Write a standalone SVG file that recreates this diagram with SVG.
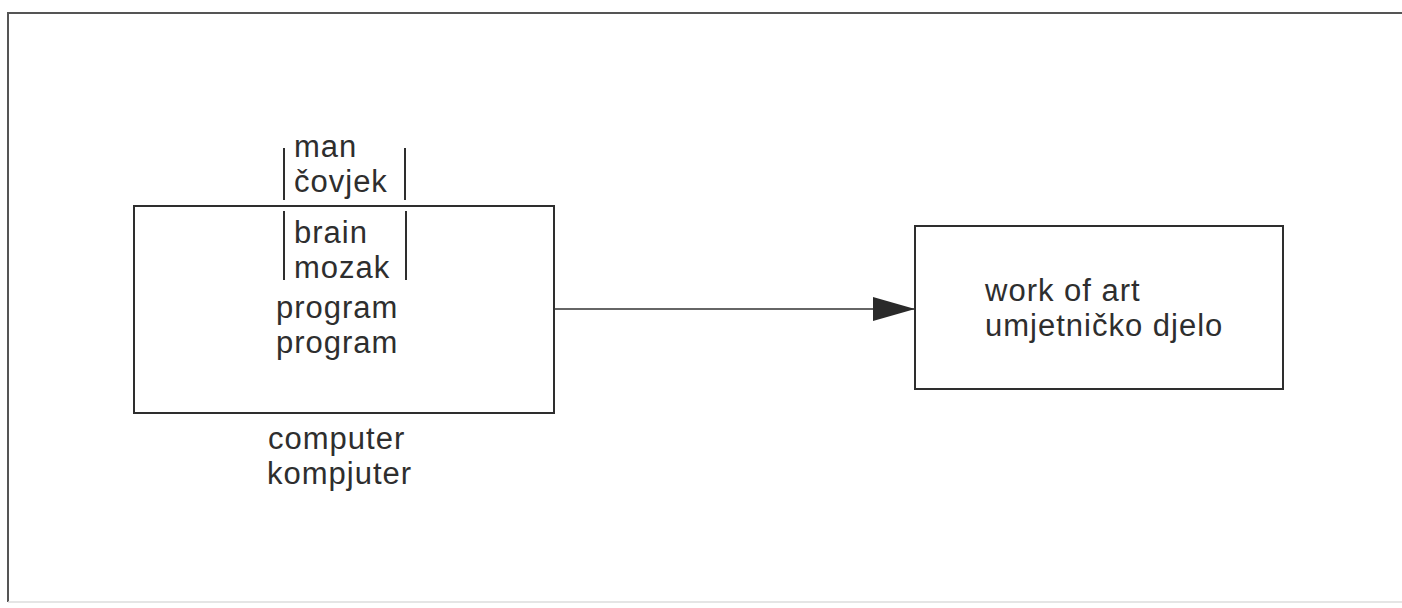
<svg xmlns="http://www.w3.org/2000/svg" width="1402" height="608" viewBox="0 0 1402 608">
  <style>
    .t { font-family: "Liberation Sans", Arial, sans-serif; font-size: 31px; letter-spacing: 1px; fill: #2e2e2e; }
    .box { fill: none; stroke: #2e2e2e; stroke-width: 2; }
    .bar { stroke: #2e2e2e; stroke-width: 2; }
    .conn { stroke: #333; stroke-width: 1.5; fill: none; }
  </style>
  <defs>
    <marker id="arrow" markerUnits="userSpaceOnUse" markerWidth="42" markerHeight="26" refX="42" refY="12" orient="auto">
      <path d="M0,0 L42,12 L0,24 Z" fill="#2a2a2a"/>
    </marker>
  </defs>
  <rect width="1402" height="608" fill="#ffffff"/>
  <g id="frame">
    <path d="M1402,13 L8,13 L8,602" fill="none" stroke="#555" stroke-width="2"/>
    <path d="M8,602 L1402,602" fill="none" stroke="#ddd" stroke-width="1.5"/>
  </g>
  <g id="man">
    <line class="bar" x1="284" y1="148" x2="284" y2="200"/>
    <line class="bar" x1="405" y1="148" x2="405" y2="200"/>
    <text class="t" x="294" y="157">man</text>
    <text class="t" x="294" y="192">čovjek</text>
  </g>
  <g id="computer">
    <rect class="box" x="134" y="206" width="420" height="207"/>
    <line class="bar" x1="284" y1="211" x2="284" y2="280"/>
    <line class="bar" x1="406" y1="211" x2="406" y2="280"/>
    <text class="t" x="294" y="243">brain</text>
    <text class="t" x="294" y="278">mozak</text>
    <text class="t" x="276" y="318">program</text>
    <text class="t" x="276" y="353">program</text>
    <text class="t" x="268" y="449">computer</text>
    <text class="t" x="267" y="484">kompjuter</text>
  </g>
  <g id="workofart">
    <rect class="box" x="915" y="226" width="368" height="163"/>
    <text class="t" x="985" y="301">work of art</text>
    <text class="t" x="985" y="336">umjetničko djelo</text>
  </g>
  <g id="connectors">
    <line class="conn" x1="554" y1="309" x2="915" y2="309" marker-end="url(#arrow)"/>
  </g>
</svg>
